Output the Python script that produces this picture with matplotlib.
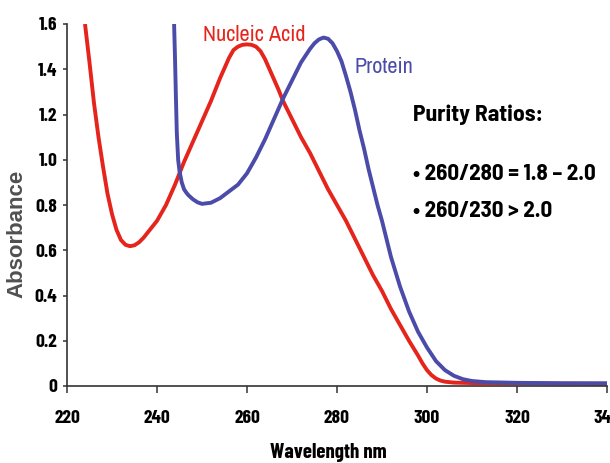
import matplotlib
matplotlib.use("Agg")
import matplotlib.pyplot as plt
import matplotlib.font_manager as fm

# Absorbance spectra
nucleic_wl = [224, 225, 226, 227, 228, 229, 230, 231, 232, 233, 234, 235, 236, 237, 238,
              240, 242, 244, 246, 248, 250, 252, 254, 256, 257, 258, 259, 260, 261, 262,
              263, 264, 265, 266, 267, 268, 270, 272, 274, 276, 278, 280, 282, 284, 286,
              288, 290, 292, 294, 296, 298, 299, 300, 301, 302, 303, 304, 306, 310, 320,
              330, 340]
nucleic_abs = [1.60, 1.43, 1.25, 1.10, 0.97, 0.85, 0.76, 0.69, 0.645, 0.624, 0.618, 0.622, 0.635, 0.655, 0.68,
               0.73, 0.80, 0.89, 0.99, 1.08, 1.17, 1.26, 1.36, 1.45, 1.485, 1.50, 1.508, 1.51, 1.508, 1.50,
               1.48, 1.445, 1.40, 1.355, 1.31, 1.26, 1.18, 1.10, 1.03, 0.95, 0.87, 0.80, 0.73, 0.65, 0.57,
               0.49, 0.42, 0.34, 0.27, 0.20, 0.135, 0.10, 0.07, 0.048, 0.033, 0.024, 0.019, 0.015, 0.013, 0.012,
               0.011, 0.01]

protein_wl = [243.8, 244.0, 244.2, 244.4, 244.7, 245.0, 245.5, 246, 246.5, 247, 248, 249, 250, 252,
              254, 256, 258, 260, 262, 264, 266, 268, 270, 272, 274, 275, 276, 277, 278, 279,
              280, 281, 282, 283, 284, 285, 286, 287, 288, 289, 290, 292, 294, 296, 298, 300,
              302, 304, 306, 308, 310, 313, 320, 330, 340]
protein_abs = [1.60, 1.45, 1.28, 1.12, 1.00, 0.95, 0.90, 0.87, 0.855, 0.843, 0.825, 0.812, 0.805, 0.81,
               0.83, 0.86, 0.89, 0.94, 1.01, 1.09, 1.18, 1.27, 1.35, 1.43, 1.49, 1.515, 1.532, 1.54, 1.535, 1.515,
               1.48, 1.435, 1.37, 1.30, 1.22, 1.13, 1.05, 0.96, 0.88, 0.80, 0.73, 0.57, 0.44, 0.33, 0.24, 0.17,
               0.11, 0.07, 0.045, 0.03, 0.022, 0.017, 0.014, 0.012, 0.012]

x_ticks = [220, 240, 260, 280, 300, 320, 340]
y_ticks = [0, 0.2, 0.4, 0.6, 0.8, 1.0, 1.2, 1.4, 1.6]
y_tick_labels = ["0", "0.2", "0.4", "0.6", "0.8", "1.0", "1.2", "1.4", "1.6"]

ratio_title = "Purity Ratios:"
ratio_lines = ["\u2022 260/280 = 1.8 \u2013 2.0", "\u2022 260/230 > 2.0"]

names = {f.name for f in fm.fontManager.ttflist}
def pick(*fams):
    for f in fams:
        if f in names:
            return f
    return "Liberation Sans"

BOLD_FONT = [pick("Barlow Semi Condensed", "Fira Sans Condensed"), "DejaVu Sans"]
TICK_FONT = [pick("Barlow Condensed", "Fira Sans Extra Condensed"), "DejaVu Sans"]
LABEL_FONT = [pick("Archivo Narrow", "Fira Sans Condensed"), "DejaVu Sans"]
plt.rcParams["font.family"] = ["Liberation Sans", "DejaVu Sans"]

RED = "#e5241c"
BLUE = "#4b4ba9"

fig = plt.figure(figsize=(6.1, 4.63), dpi=100)
ax = fig.add_axes([67 / 610, 1 - 386 / 463, 540 / 610, 362 / 463])

ax.plot(nucleic_wl, nucleic_abs, color=RED, lw=2.8, solid_capstyle="butt")
ax.plot(protein_wl, protein_abs, color=BLUE, lw=2.8, solid_capstyle="butt")

ax.set_xlim(220, 340)
ax.set_ylim(0, 1.6)
ax.set_xticks(x_ticks)
ax.set_yticks(y_ticks)
ax.set_yticklabels(y_tick_labels)

for s in ["top", "right"]:
    ax.spines[s].set_visible(False)
for s in ["left", "bottom"]:
    ax.spines[s].set_color("#333333")
    ax.spines[s].set_linewidth(1.2)

ax.tick_params(axis="x", direction="out", length=5, width=1.1, color="#333333", pad=12)
ax.tick_params(axis="y", direction="out", length=3, width=1.1, color="#333333", pad=4)
for lab in ax.get_xticklabels() + ax.get_yticklabels():
    lab.set_fontfamily(TICK_FONT)
    lab.set_fontweight("bold")
    lab.set_fontsize(14)
for lab in ax.get_xticklabels():
    lab.set_clip_on(False)

ax.set_xlabel("Wavelength nm", fontsize=15, fontweight="bold", family=TICK_FONT)
ax.xaxis.set_label_coords(0.483, -0.158)
ax.set_ylabel("Absorbance", fontsize=16, fontweight="bold", color="#505050")
ax.yaxis.set_label_coords(-0.074, 0.42)

ax.text(250.2, 1.55, "Nucleic Acid", color=RED, fontsize=16, va="center", ha="left",
        family=LABEL_FONT)
ax.text(283.8, 1.41, "Protein", color=BLUE, fontsize=16, va="center", ha="left",
        family=LABEL_FONT)

fig.text(413 / 610, 1 - 115 / 463, ratio_title, fontsize=17, fontweight="bold",
         va="center", ha="left", family=BOLD_FONT)
for i, line in enumerate(ratio_lines):
    fig.text(413 / 610, 1 - (174 + 37 * i) / 463, line, fontsize=16.5, fontweight="bold",
             va="center", ha="left", family=BOLD_FONT)

fig.savefig("out.png", dpi=100)
